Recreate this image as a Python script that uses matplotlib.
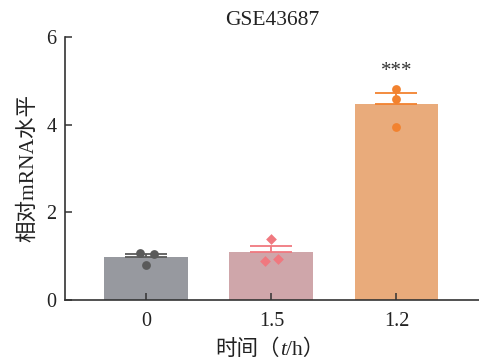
import matplotlib
matplotlib.use("Agg")
import matplotlib.pyplot as plt
import numpy as np

# ── Data ──────────────────────────────────────────────────────────────────────
GROUPS = ["0", "1.5", "1.2"]
MEANS = [0.98, 1.10, 4.47]
ERR_UP = [0.08, 0.13, 0.25]
POINTS = [[1.08, 1.05, 0.80],
          [1.39, 0.89, 0.94],
          [4.82, 4.59, 3.95]]
JITTER = [[-0.05, 0.06, 0.0],
          [0.0, -0.05, 0.05],
          [0.0, 0.0, 0.0]]
SIG = ["", "", "***"]

BAR_COLORS = ["#97999f", "#cfa6aa", "#e9ab7b"]
PT_COLORS = ["#5a5a5a", "#f0787f", "#f2822f"]
MARKERS = ["o", "D", "o"]

FONT = ["Liberation Serif", "Noto Sans CJK SC", "DejaVu Sans"]
plt.rcParams["font.family"] = FONT

fig = plt.figure(figsize=(4.79, 3.61), dpi=100)
ax = fig.add_axes([0.1357, 0.169, 0.8643, 0.7285])

x = np.arange(len(GROUPS))
ax.bar(x, MEANS, width=0.67, color=BAR_COLORS, zorder=1)
for i in x:
    ax.errorbar(i, MEANS[i], yerr=[[0], [ERR_UP[i]]], color=PT_COLORS[i],
                capsize=15, elinewidth=1.3, capthick=1.3, fmt="none", zorder=2)
    ax.scatter(np.full(3, i) + np.array(JITTER[i]), POINTS[i],
               marker=MARKERS[i], s=40 if MARKERS[i] == "o" else 30,
               color=PT_COLORS[i], zorder=3, linewidths=0)
    if SIG[i]:
        ax.text(i, MEANS[i] + ERR_UP[i] + 0.28, SIG[i], ha="center",
                va="bottom", fontsize=15, color="#333333")

ax.set_xlim(-0.65, 2.66)
ax.set_ylim(0, 6)
ax.set_yticks([0, 2, 4, 6])
ax.set_xticks(x)
ax.set_xticklabels(GROUPS)
ax.tick_params(direction="in", length=5, width=1.1, labelsize=14.5,
               colors="#333333", labelcolor="#222222")
ax.tick_params(axis="x", pad=9)
ax.tick_params(axis="y", pad=6)
for s in ["top", "right"]:
    ax.spines[s].set_visible(False)
for s in ["left", "bottom"]:
    ax.spines[s].set_linewidth(1.2)
    ax.spines[s].set_color("#333333")

ax.set_title("GSE43687", fontsize=15.5, color="#222222", pad=9)
ax.set_ylabel("相对mRNA水平", fontsize=15.5, color="#222222", labelpad=6)

# x label with italic t, built from three pieces
fig.canvas.draw()
r = fig.canvas.get_renderer()
pieces = [("时间（", "normal"), ("t", "italic"), ("/h）", "normal")]
texts = []
for s, st in pieces:
    t = fig.text(0, 0, s, fontsize=15.5, style=st, color="#222222",
                 ha="left", va="baseline", transform=None)
    texts.append(t)
widths = [t.get_window_extent(r).width for t in texts]
cx = 270
yb = 361 - 355
x0 = cx - sum(widths) / 2
for t, w in zip(texts, widths):
    t.set_position((x0, yb))
    x0 += w

fig.savefig("out.png", dpi=100)
